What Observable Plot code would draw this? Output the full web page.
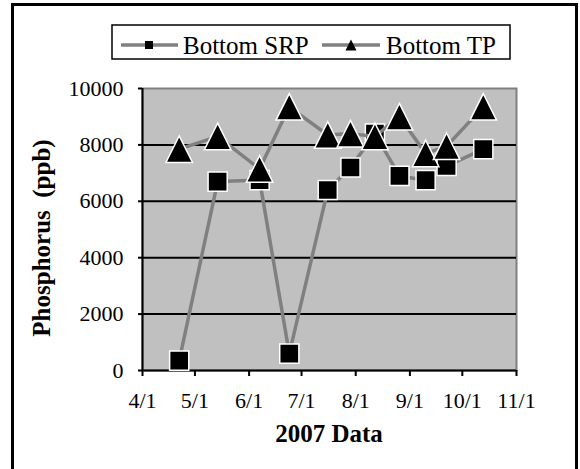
<!DOCTYPE html>
<html><head><meta charset="utf-8">
<script src="https://cdn.jsdelivr.net/npm/d3@7"></script>
<script src="https://cdn.jsdelivr.net/npm/@observablehq/plot@0.6"></script>
<style>
body{margin:0;background:#fff;}
#wrap{position:relative;width:580px;height:469px;overflow:hidden;font-family:"Liberation Serif","Times New Roman",serif;background:#fff;}
#wrap svg{position:absolute;left:0;top:0;}
#wrap svg text{font-family:"Liberation Serif","Times New Roman",serif !important;}
#border{position:absolute;left:11px;top:3px;width:561px;height:480px;border:3px solid #000;}
#ytitle{position:absolute;left:42px;top:238px;transform:translate(-50%,-50%) rotate(-90deg);white-space:pre;font-weight:bold;font-size:25px;}
#xtitle{position:absolute;left:329px;top:420px;transform:translateX(-50%);white-space:pre;font-weight:bold;font-size:25px;}
</style></head><body><div id="wrap"><div id="border"></div></div>
<script>
// ---- data ----
const sampleDates = ["2007-04-22","2007-05-14","2007-06-07","2007-06-24","2007-07-16","2007-07-29","2007-08-12","2007-08-26","2007-09-10","2007-09-22","2007-10-13"];
const bottomSRP = [350, 6700, 6750, 600, 6400, 7200, 8400, 6900, 6750, 7250, 7850];
const bottomTP  = [7850, 8300, 7150, 9350, 8350, 8400, 8300, 9000, 7700, 7950, 9350];
const seriesNames = ["Bottom SRP", "Bottom TP"];
const xTickDates = ["2007-04-01","2007-05-01","2007-06-01","2007-07-01","2007-08-01","2007-09-01","2007-10-01","2007-11-01"];
const xTickLabels = ["4/1","5/1","6/1","7/1","8/1","9/1","10/1","11/1"];
const yTicks = [0, 2000, 4000, 6000, 8000, 10000];
const yGrid = [2000, 4000, 6000, 8000];
const xTitle = "2007 Data";
const yTitle = "Phosphorus  (ppb)";

const parse = d3.utcParse("%Y-%m-%d");
const srpData = sampleDates.map((d, i) => ({date: parse(d), value: bottomSRP[i]}));
const tpData = sampleDates.map((d, i) => ({date: parse(d), value: bottomTP[i]}));
const xTickVals = xTickDates.map(parse);
const labelOf = new Map(xTickVals.map((d, i) => [+d, xTickLabels[i]]));

// triangle centred on its bounding box (as in the spreadsheet chart)
const triBox = {draw(ctx, size) { const w = Math.sqrt(2 * size); ctx.moveTo(0, -w / 2); ctx.lineTo(w / 2, w / 2); ctx.lineTo(-w / 2, w / 2); ctx.closePath(); }};

const serif = "'Liberation Serif','Times New Roman',serif";
const lineGray = "#808080";
const plot = Plot.plot({
  width: 580, height: 469,
  marginLeft: 142, marginRight: 64, marginTop: 88, marginBottom: 99,
  style: {fontFamily: serif, fontSize: "22px", color: "#000", background: "transparent", overflow: "visible"},
  x: {type: "utc", domain: [xTickVals[0], xTickVals[xTickVals.length - 1]]},
  y: {domain: [0, 10000]},
  marks: [
    Plot.frame({fill: "#c0c0c0", stroke: lineGray, strokeWidth: 2}),
    Plot.ruleY(yGrid, {stroke: "#000", strokeWidth: 2}),
    Plot.axisY({ticks: yTicks, tickSize: 4, tickPadding: 15, tickFormat: d => String(d), fontSize: 22, fontFamily: serif, label: null, strokeWidth: 2}),
    Plot.axisX({ticks: xTickVals, tickSize: 6, tickPadding: 16, tickFormat: d => labelOf.get(+d), fontSize: 22, fontFamily: serif, label: null, strokeWidth: 2}),
    Plot.ruleX([xTickVals[0]], {stroke: "#000", strokeWidth: 2}),
    Plot.ruleY([0], {stroke: "#000", strokeWidth: 2}),
    Plot.line(srpData, {x: "date", y: "value", stroke: lineGray, strokeWidth: 3.5}),
    Plot.dot(srpData, {x: "date", y: "value", symbol: "square", r: 10.8, fill: "#000", stroke: "#fff", strokeWidth: 1.5}),
    Plot.line(tpData, {x: "date", y: "value", stroke: lineGray, strokeWidth: 3.5}),
    Plot.dot(tpData, {x: "date", y: "value", symbol: triBox, r: 10.6, fill: "#000", stroke: "#fff", strokeWidth: 1.5})
  ]
});
const wrap = document.getElementById("wrap");
wrap.insertBefore(plot, wrap.firstChild);

// titles
const yt = document.createElement("div"); yt.id = "ytitle"; yt.textContent = yTitle; wrap.appendChild(yt);
const xt = document.createElement("div"); xt.id = "xtitle"; xt.textContent = xTitle; wrap.appendChild(xt);

// legend
const leg = d3.select(wrap).append("svg").attr("width", 580).attr("height", 70).style("overflow", "visible");
leg.append("rect").attr("x", 112).attr("y", 25).attr("width", 398).attr("height", 34).attr("fill", "#fff").attr("stroke", "#000").attr("stroke-width", 1.5);
const items = [
  {x0: 121, x1: 178, cx: 149, tx: 183, sym: d3.symbolSquare, size: 64},
  {x0: 322, x1: 380, cx: 351, tx: 386, sym: triBox, size: 60}
];
items.forEach((it, i) => {
  leg.append("line").attr("x1", it.x0).attr("x2", it.x1).attr("y1", 45).attr("y2", 45).attr("stroke", lineGray).attr("stroke-width", 3.5);
  leg.append("path").attr("d", d3.symbol(it.sym, it.size)()).attr("transform", `translate(${it.cx},45)`).attr("fill", "#000");
  leg.append("text").attr("x", it.tx).attr("y", 54).style("font-size", "25px").style("font-family", serif).text(seriesNames[i]);
});
</script></body></html>
